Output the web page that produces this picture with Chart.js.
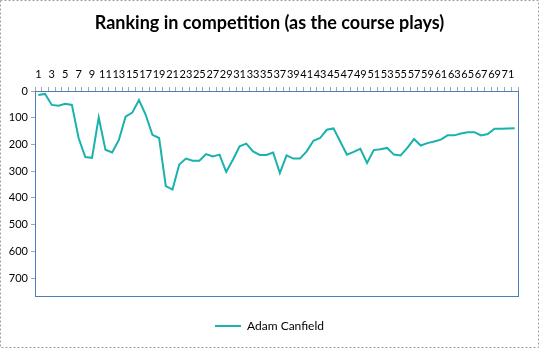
<!DOCTYPE html>
<html>
<head>
<meta charset="utf-8">
<script src="https://cdn.jsdelivr.net/npm/chart.js@4"></script>
<style>
  html, body { margin: 0; padding: 0; background: #fff; }
  #wrap { position: relative; width: 539px; height: 348px; }
</style>
</head>
<body>
<div id="wrap"><canvas id="chart" width="539" height="348"></canvas></div>
<script>
// data
const holes = ['1','2','3','4','5','6','7','8','9','10','11','12','13','14','15','16','17','18',
  '19','20','21','22','23','24','25','26','27','28','29','30','31','32','33','34','35','36',
  '37','38','39','40','41','42','43','44','45','46','47','48','49','50','51','52','53','54',
  '55','56','57','58','59','60','61','62','63','64','65','66','67','68','69','70','71','72'];
const canfield = [15, 11, 52, 55, 48, 52, 176, 247, 250, 99,
  220, 230, 183, 96, 81, 34, 89, 164, 176, 356,
  369, 275, 253, 261, 261, 236, 245, 238, 303, 257,
  207, 197, 226, 239, 239, 230, 307, 241, 253, 253,
  226, 186, 176, 145, 140, 189, 238, 228, 216, 269,
  221, 218, 213, 238, 241, 213, 180, 204, 195, 189,
  182, 166, 166, 159, 154, 154, 166, 161, 141, 141, 140, 139];
const rankTicks = [0, 100, 200, 300, 400, 500, 600, 700];

const lineColor = '#19b2ad';
const frameColor = '#4a7ebb';

// border round the plot area and the dashed frame round the whole picture
const frames = {
  id: 'frames',
  afterDraw(chart) {
    const { ctx, chartArea: a } = chart;
    ctx.save();
    ctx.strokeStyle = frameColor;
    ctx.lineWidth = 1;
    ctx.strokeRect(Math.round(a.left) + 0.5, Math.round(a.top) + 0.5,
      Math.round(a.right - a.left), Math.round(a.bottom - a.top));
    ctx.strokeStyle = '#a0a0a0';
    ctx.setLineDash([2, 2]);
    ctx.strokeRect(0.5, 0.5, chart.width - 1, chart.height - 1);
    ctx.restore();
  }
};

new Chart(document.getElementById('chart'), {
  type: 'line',
  data: {
    labels: holes,
    datasets: [{
      label: 'Adam Canfield',
      data: canfield,
      borderColor: lineColor,
      backgroundColor: lineColor,
      borderWidth: 2,
      pointRadius: 0,
      tension: 0
    }]
  },
  options: {
    responsive: false,
    animation: false,
    layout: { padding: { left: 0, right: 0, top: 0, bottom: 6 } },
    plugins: {
      title: {
        display: true,
        text: 'Ranking in competition (as the course plays)',
        color: '#000',
        font: { family: 'Lato', size: 18, weight: 'bold' },
        padding: { top: 12, bottom: 7 }
      },
      legend: {
        position: 'bottom',
        labels: {
          color: '#000',
          font: { family: 'Lato', size: 12 },
          usePointStyle: true,
          pointStyle: 'line',
          pointStyleWidth: 26,
          padding: 24
        }
      },
      tooltip: { enabled: false }
    },
    scales: {
      x: {
        type: 'category',
        position: 'top',
        offset: true,
        grid: { offset: true, drawOnChartArea: false, tickLength: 4, color: '#a6a6a6' },
        border: { display: false },
        ticks: {
          autoSkip: false,
          maxRotation: 0,
          padding: 6,
          color: '#000',
          font: { family: 'Lato', size: 11 },
          callback: (v, i) => (i % 2 === 0 ? holes[i] : '')
        },
        afterFit: (s) => { s.height = 50.4; }
      },
      y: {
        reverse: true,
        min: 0,
        max: 767,
        grid: { drawOnChartArea: false, tickLength: 4, color: '#a6a6a6' },
        border: { display: false },
        ticks: {
          stepSize: 100,
          padding: 3,
          color: '#000',
          font: { family: 'Lato', size: 11 }
        },
        afterBuildTicks: (s) => { s.ticks = rankTicks.map(v => ({ value: v })); },
        afterFit: (s) => { s.width = 35; }
      },
      // empty strip on the right so the plot ends where the reference does
      pad: {
        type: 'linear',
        position: 'right',
        grid: { display: false },
        border: { display: false },
        ticks: { display: false },
        afterFit: (s) => { s.width = 21; }
      }
    }
  },
  plugins: [frames]
});
</script>
</body>
</html>
